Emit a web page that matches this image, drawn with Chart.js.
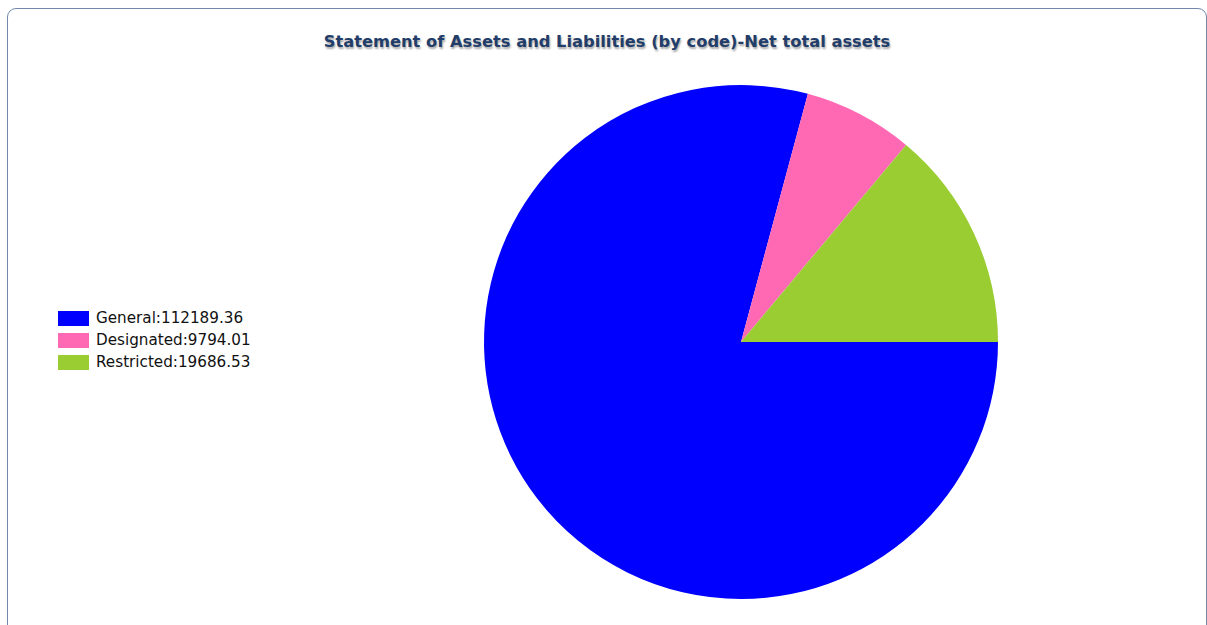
<!DOCTYPE html>
<html>
<head>
<meta charset="utf-8">
<script src="https://cdn.jsdelivr.net/npm/chart.js@4/dist/chart.umd.min.js"></script>
<style>
  html, body { margin: 0; padding: 0; background: #ffffff; width: 1207px; height: 625px; overflow: hidden; }
  #frame { position: absolute; left: 7px; top: 8px; width: 1200px; height: 640px; border: 1px solid #7388ad; border-radius: 9px; box-sizing: border-box; }
  #title { position: absolute; left: 7px; top: 32px; width: 1200px; text-align: center; font-family: "DejaVu Sans", sans-serif; font-weight: bold; font-size: 16.3px; color: #223d69; text-shadow: 1px 2px 2px rgba(0,0,0,0.35); white-space: nowrap; }
  #legend { position: absolute; left: 58px; top: 310px; font-family: "DejaVu Sans", sans-serif; font-size: 15.2px; color: #111; }
  .row { height: 22px; display: flex; align-items: flex-start; white-space: nowrap; }
  .box { width: 31px; height: 15px; margin-top: 1px; margin-right: 7px; }
  .lbl { line-height: 17px; }
  #c { position: absolute; left: 0; top: 0; }
</style>
</head>
<body>
<div id="frame"></div>
<div id="title"></div>
<div id="legend"></div>
<canvas id="c" width="1207" height="625"></canvas>
<script>
const chartTitle = "Statement of Assets and Liabilities (by code)-Net total assets";
const categories = ["General", "Designated", "Restricted"];
const values = [112189.36, 9794.01, 19686.53];
const colors = ["#0000ff", "#ff69b4", "#9acd32"];

document.getElementById('title').textContent = chartTitle;
const legend = document.getElementById('legend');
categories.forEach((c, i) => {
  const row = document.createElement('div');
  row.className = 'row';
  const box = document.createElement('div');
  box.className = 'box';
  box.style.background = colors[i];
  const lbl = document.createElement('div');
  lbl.className = 'lbl';
  lbl.textContent = c + ':' + values[i];
  row.appendChild(box); row.appendChild(lbl);
  legend.appendChild(row);
});

new Chart(document.getElementById('c'), {
  type: 'pie',
  data: {
    labels: categories,
    datasets: [{ data: values, backgroundColor: colors, borderWidth: 0 }]
  },
  options: {
    responsive: false,
    animation: false,
    rotation: 90,
    events: [],
    layout: { padding: { left: 484, right: 209, top: 85, bottom: 26 } },
    plugins: { legend: { display: false }, title: { display: false }, tooltip: { enabled: false } }
  }
});
</script>
</body>
</html>
